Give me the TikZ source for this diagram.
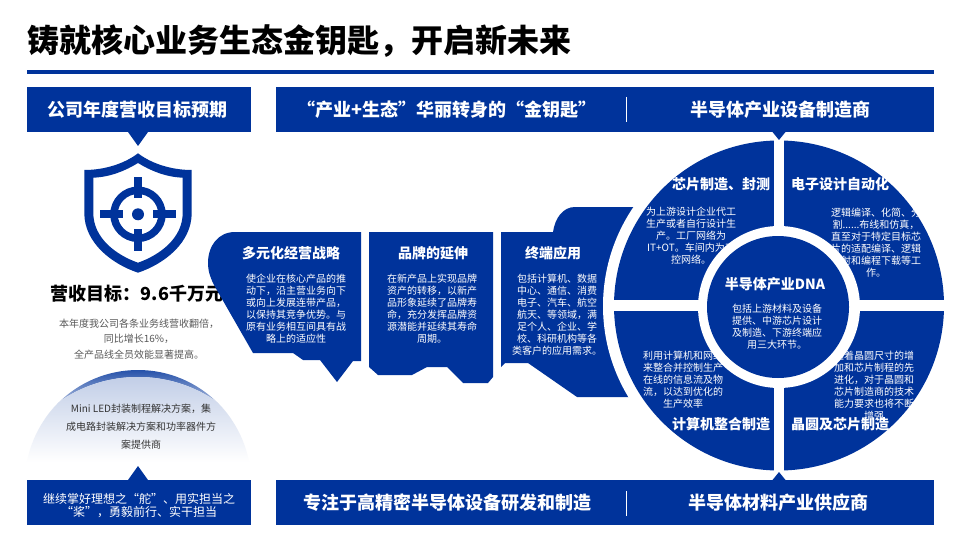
\documentclass[tikz,border=0pt]{standalone}
\usepackage{fontspec}
\setmainfont{Noto Sans CJK SC}
\definecolor{brand}{HTML}{00339B}
\definecolor{bodygray}{HTML}{595959}
\tikzset{
  bar/.style={fill=brand,draw=none},
  blob/.style={fill=brand,draw=none},
  headtxt/.style={text=white,inner sep=0pt,font=\bfseries\fontsize{18}{22}\selectfont},
  cardtitle/.style={text=white,inner sep=0pt,font=\bfseries\fontsize{14}{17}\selectfont},
  bodytxt/.style={text=white,inner sep=0pt,align=center,font=\fontsize{10}{12}\selectfont},
}
\begin{document}
\begin{tikzpicture}[x=1pt,y=-1pt]
\useasboundingbox (0,0) rectangle (960,540);
\fill[white] (0,0) rectangle (960,540);
% title
\node[anchor=west,inner sep=0pt,text=black,font=\bfseries\fontsize{32}{38}\selectfont] (title) at (27,41) {铸就核心业务生态金钥匙，开启新未来};
\fill[brand] (27,70.5) rectangle (934,74.5);
% shield icon
\fill[brand,even odd rule]
  (138,153.3) .. controls (124,164) and (104,170) .. (84.3,170)
  -- (84.3,213) .. controls (84.3,243) and (112,264) .. (138,272.7)
  .. controls (164,264) and (191.7,243) .. (191.7,213)
  -- (191.7,170) .. controls (172,170) and (152,164) .. (138,153.3) -- cycle
  (138,163) .. controls (125,171) and (110,177) .. (93.3,177.7)
  -- (93.3,213) .. controls (93.3,238) and (116,255) .. (138,262.7)
  .. controls (160,255) and (182.7,238) .. (182.7,213)
  -- (182.7,177.7) .. controls (166,177) and (151,171) .. (138,163) -- cycle;
\draw[brand,line width=7.5pt] (138,214.3) circle[radius=24pt];
\fill[brand] (138,214.3) circle[radius=6pt];
\fill[brand] (100,210.3) rectangle (123,218.3);
\fill[brand] (153,210.3) rectangle (175.7,218.3);
\fill[brand] (134,176.7) rectangle (142,198);
\fill[brand] (134,229) rectangle (142,251);
% revenue text
\node[inner sep=0pt,text=black,font=\bfseries\fontsize{18}{22}\selectfont] (goal) at (137,294) {营收目标：9.6千万元};
\node[inner sep=0pt,text=bodygray,align=center,font=\fontsize{10}{15.5}\selectfont] (goaltxt) at (139,339) {本年度我公司各条业务线营收翻倍，\\同比增长16\%，\\全产品线全员效能显著提高。};
% dome
\begin{scope}
  \clip (138,483) circle[radius=113pt];
  \shade[top color=brand!85!white,bottom color=brand!10!white] (20,370) rectangle (260,418);
  \clip (138,514.7) circle[radius=137.7pt];
  \fill[white] (20,370) rectangle (260,480);
  \shade[top color=brand!24!white,bottom color=white] (20,377) rectangle (260,462);
\end{scope}
\node[inner sep=0pt,text=black!80,align=center,font=\fontsize{10}{18}\selectfont] (dome) at (141,427) {Mini LED封装制程解决方案，集\\成电路封装解决方案和功率器件方\\案提供商};
% card 1
\fill[blob] (235,232) .. controls (218,232) and (208,246) .. (208,263)
  .. controls (208,272) and (211,279) .. (214,285)
  -- (253,353) -- (293,353) -- (303,360) -- (320,360) -- (337,382) -- (353,361) -- (361,361) -- (361,232) -- cycle;
\node[cardtitle] (c1t) at (291,253) {多元化经营战略};
\node[bodytxt] (c1b) at (296,309) {使企业在核心产品的推\\动下，沿主营业务向下\\或向上发展连带产品，\\以保持其竞争优势。与\\原有业务相互间具有战\\略上的适应性};
% card 2
\fill[blob] (369,232) -- (493,232) -- (493,377) -- (488,383) -- (463,383) -- (447,367) -- (427,367) -- (412,375) -- (378,375) -- (369,367) -- cycle;
\node[cardtitle] (c2t) at (433,253) {品牌的延伸};
\node[bodytxt] (c2b) at (432,309) {在新产品上实现品牌\\资产的转移，以新产\\品形象延续了品牌寿\\命，充分发挥品牌资\\源潜能并延续其寿命\\周期。};
% card 3, runs beneath the wheel
\fill[blob] (501,232) -- (553,232) .. controls (555,218) and (563,207) .. (575,207)
  -- (700,207) -- (700,397) -- (577,397) -- (528,363) -- (505,363) -- (501,367) -- cycle;
\node[cardtitle] (c3t) at (553,253) {终端应用};
\node[bodytxt] (c3b) at (557,315) {包括计算机、数据\\中心、通信、消费\\电子、汽车、航空\\航天、等领域，满\\足个人、企业、学\\校、科研机构等各\\类客户的应用需求。};
% wheel
\fill[white] (779,306) circle[radius=176pt];
\fill[brand] (779,305.5) circle[radius=165pt];
\fill[white] (774,135) rectangle (784,475);
\fill[white] (610,300) rectangle (948,311);
\node[cardtitle] (q1t) at (721,184) {芯片制造、封测};
\node[cardtitle] (q2t) at (840,184) {电子设计自动化};
\node[cardtitle] (q3t) at (721,424) {计算机整合制造};
\node[cardtitle] (q4t) at (840,424) {晶圆及芯片制造};
\node[bodytxt] (q1b) at (691,236) {为上游设计企业代工\\生产或者自行设计生\\产。工厂网络为\\IT+OT。车间内为工\\控网络。};
\node[bodytxt] (q2b) at (876,243) {逻辑编译、化简、分\\割......布线和仿真，\\直至对于特定目标芯\\片的适配编译、逻辑\\映射和编程下载等工\\作。};
\node[bodytxt] (q3b) at (683,380) {利用计算机和网络\\来整合并控制生产\\在线的信息流及物\\流，以达到优化的\\生产效率};
\node[bodytxt] (q4b) at (874,386) {随着晶圆尺寸的增\\加和芯片制程的先\\进化，对于晶圆和\\芯片制造商的技术\\能力要求也将不断\\增强};
\fill[white] (779,307) circle[radius=81pt];
\fill[brand] (778,307) circle[radius=71pt];
\node[cardtitle] (dna) at (775,284) {半导体产业DNA};
\node[bodytxt] (dnab) at (777,327) {包括上游材料及设备\\提供、中游芯片设计\\及制造、下游终端应\\用三大环节。};
% header bars
\fill[bar] (27,87) rectangle (251,132);
\fill[bar] (128,132) -- (148,132) -- (138,146) -- cycle;
\node[headtxt] (hleft) at (137,110) {公司年度营收目标预期};
\fill[bar] (276,87) rectangle (934,132);
\fill[bar] (772.5,132) -- (785.5,132) -- (779,140) -- cycle;
\draw[white,line width=0.8pt] (626,97) -- (626,122);
\node[headtxt] (hmid) at (447,110) {“产业+生态”华丽转身的“金钥匙”};
\node[headtxt] (hright) at (780,110) {半导体产业设备制造商};
% footer bars
\fill[bar] (27,480) rectangle (251,525);
\fill[bar] (128,480) -- (148,480) -- (138,466) -- cycle;
\node[text=white,inner sep=0pt,align=center,font=\fontsize{12}{13.5}\selectfont] (fleft) at (139,505.5) {继续掌好理想之“舵”、用实担当之\\“桨”，勇毅前行、实干担当};
\fill[bar] (276,480) rectangle (934,525);
\fill[bar] (772.5,480) -- (785.5,480) -- (779,472) -- cycle;
\draw[white,line width=0.8pt] (626,491) -- (626,516);
\node[headtxt] (fmid) at (447,503) {专注于高精密半导体设备研发和制造};
\node[headtxt] (fright) at (778,503) {半导体材料产业供应商};
\end{tikzpicture}
\end{document}
